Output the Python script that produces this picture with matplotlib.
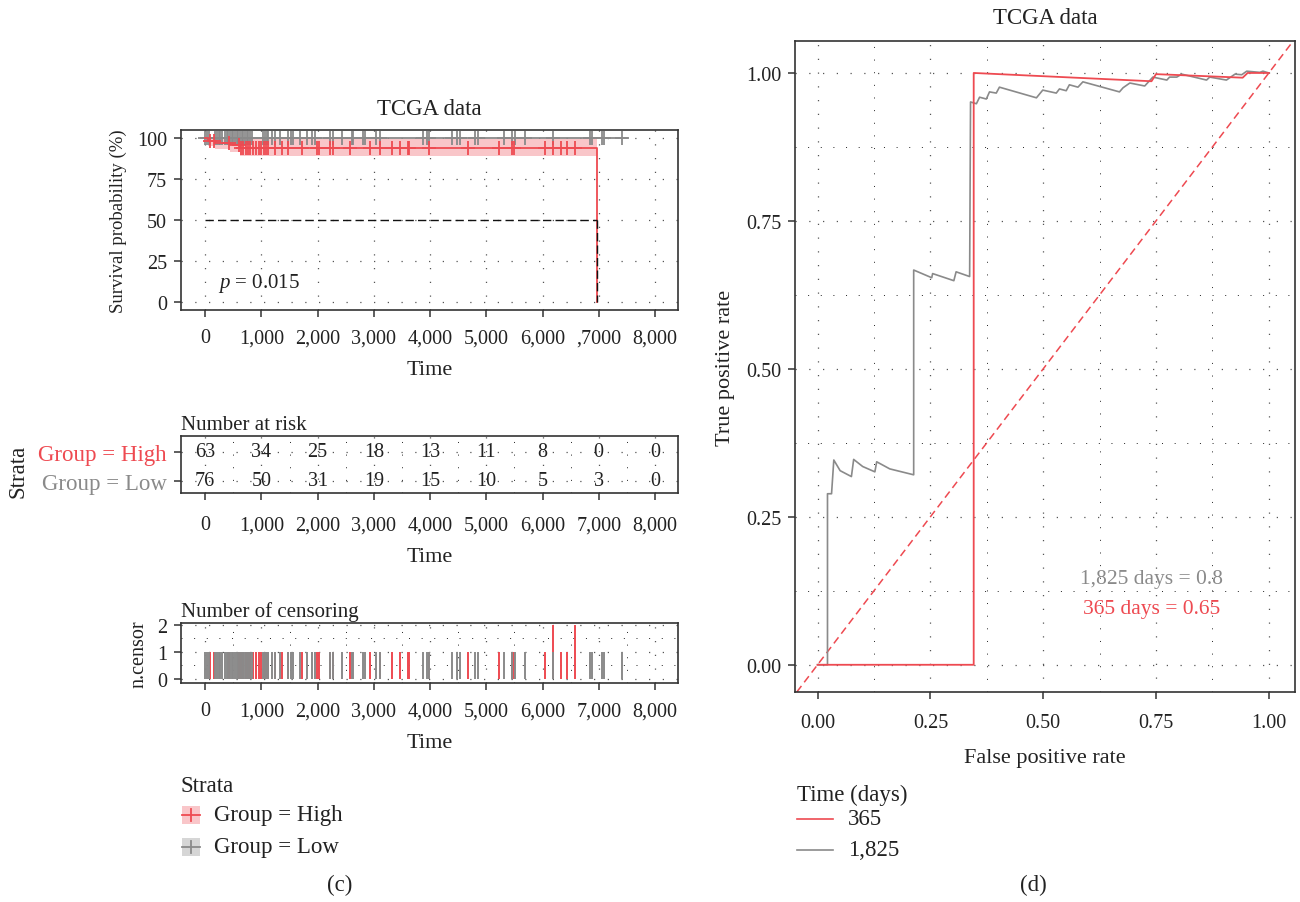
import numpy as np
import matplotlib
matplotlib.use("Agg")
import matplotlib.pyplot as plt
from matplotlib.patches import Rectangle
from matplotlib.ticker import FixedLocator, MultipleLocator

plt.rcParams['font.family'] = ['Liberation Serif', 'DejaVu Serif']
plt.rcParams['mathtext.fontset'] = 'custom'
plt.rcParams['mathtext.rm'] = 'Liberation Serif'
plt.rcParams['mathtext.it'] = 'Liberation Serif:italic'

RED = '#EE4A51'
GREY = '#8A8A8A'
PINK = '#F9C6C9'
TXT = '#222222'
SPINE = '#333333'

# ---------------- data ----------------
time_ticks = [0, 1000, 2000, 3000, 4000, 5000, 6000, 7000, 8000]
km_tick_labels = ['0', '1,000', '2,000', '3,000', '4,000', '5,000', '6,000', ',7000', '8,000']
time_tick_labels = ['0', '1,000', '2,000', '3,000', '4,000', '5,000', '6,000', '7,000', '8,000']

# Kaplan-Meier steps, group High
high_time = [0, 50, 180, 450, 620, 6963]
high_surv = [100, 98.4, 97.0, 95.6, 93.8, 0]
high_lower = [100, 95.5, 93.5, 91.4, 88.9, 88.9]
high_upper = [100, 100, 99.8, 99.7, 99.6, 99.6]

# Kaplan-Meier steps, group Low
low_time = [0, 7497]
low_surv = [100, 100]

# censoring times and counts
high_cens_time = [90, 160, 430, 600, 640, 680, 720, 760, 800, 850, 905, 950, 1000,
                  1040, 1080, 1120, 1244, 1363, 1481, 1719, 1985, 2027, 2222, 2270, 2578,
                  2923, 3111, 3318, 3467, 3615, 3633, 3989, 4682, 5220, 5464, 5500, 6044,
                  6181, 6323, 6430, 6578]
high_cens_n = [1] * 37 + [2, 1, 1, 2]

low_cens_time = [0, 30, 60, 180, 210, 240, 270, 296, 355, 380, 410, 440, 474, 500, 530,
                 560, 590, 620, 650, 680, 711, 740, 770, 800, 830, 1037, 1070, 1100, 1126,
                 1185, 1244, 1333, 1481, 1530, 1570, 1689, 1807, 1900, 1955, 2222, 2281,
                 2430, 2607, 2637, 2815, 2850, 3030, 3111, 3881, 3940, 3988, 4385, 4474,
                 4540, 4800, 4860, 5315, 5452, 5511, 5680, 6193, 6844, 6874, 7052, 7093, 7420]
low_cens_n = [1] * len(low_cens_time)

p_value = 0.015
median_surv = 50

# numbers at risk
risk_high = [63, 34, 25, 18, 13, 11, 8, 0, 0]
risk_low = [76, 50, 31, 19, 15, 10, 5, 3, 0]
strata_labels = ['Group = High', 'Group = Low']

# time-dependent ROC
fpr_365 = [0, 0.346, 0.346, 0.74, 0.75, 0.942, 0.953, 1.0]
tpr_365 = [0, 0, 1.0, 0.986, 0.998, 0.992, 1.0, 1.0]

fpr_1825 = [0, 0.022, 0.022, 0.031, 0.036, 0.05, 0.075, 0.08, 0.10, 0.127, 0.131, 0.16,
            0.213, 0.213, 0.253, 0.255, 0.302, 0.307, 0.337, 0.339, 0.352, 0.359, 0.374,
            0.381, 0.396, 0.403, 0.485, 0.499, 0.529, 0.536, 0.551, 0.558, 0.577, 0.588,
            0.669, 0.677, 0.692, 0.725, 0.743, 0.774, 0.78, 0.796, 0.807, 0.862, 0.869,
            0.906, 0.925, 0.94, 0.951, 0.98, 0.987, 1.0]
tpr_1825 = [0, 0, 0.289, 0.289, 0.346, 0.328, 0.318, 0.347, 0.335, 0.326, 0.343, 0.331,
            0.321, 0.667, 0.654, 0.661, 0.649, 0.664, 0.656, 0.951, 0.948, 0.959, 0.956,
            0.968, 0.966, 0.976, 0.958, 0.971, 0.966, 0.973, 0.970, 0.980, 0.976, 0.985,
            0.968, 0.975, 0.983, 0.978, 0.993, 0.988, 0.993, 0.993, 0.998, 0.988, 0.993,
            0.988, 0.998, 0.997, 1.003, 1.001, 1.003, 1.0]
auc_365 = 0.65
auc_1825 = 0.8
roc_ticks = [0, 0.25, 0.5, 0.75, 1.0]
roc_tick_labels = ['0.00', '0.25', '0.50', '0.75', '1.00']

# ---------------- figure ----------------
W, H = 1300, 903
fig = plt.figure(figsize=(W / 100, H / 100), dpi=100)

LAB = 16      # axis titles
TICK = 14.5   # tick labels
HEAD = 16.5   # panel headings / legends


def px_axes(x0, y0, x1, y1):
    return fig.add_axes([x0 / W, 1 - y1 / H, (x1 - x0) / W, (y1 - y0) / H])


def style(ax, xpad=7, ypad=5):
    for s in ax.spines.values():
        s.set_color(SPINE)
        s.set_linewidth(1.2)
    ax.tick_params(axis='both', which='major', length=5, width=1.1, color=SPINE,
                   labelsize=TICK, labelcolor=TXT)
    ax.tick_params(axis='x', which='major', pad=xpad)
    ax.tick_params(axis='y', which='major', pad=ypad)
    ax.tick_params(axis='both', which='minor', length=0)


def dotted_grid(ax, minor_x=False, minor_y=False):
    ax.set_axisbelow(True)
    ax.grid(True, which='major', linestyle=(0, (1, 10)), linewidth=0.9, color='#555555')
    if minor_x:
        ax.grid(True, which='minor', axis='x', linestyle=(0, (1, 12)), linewidth=0.7, color='#222222')
    if minor_y:
        ax.grid(True, which='minor', axis='y', linestyle=(0, (1, 12)), linewidth=0.7, color='#222222')


XLIM = (-430, 8410)

# ---- survival curve ----
ax1 = px_axes(181, 131, 678, 311)
style(ax1, xpad=8)
dotted_grid(ax1)
ax1.set_xlim(*XLIM)
ax1.set_ylim(-5, 105)
ax1.xaxis.set_major_locator(FixedLocator(time_ticks))
ax1.set_xticklabels(km_tick_labels)
ax1.set_yticks([0, 25, 50, 75, 100])
ax1.set_yticklabels(['0', '25', '50', '75', '100'])

ax1.fill_between(high_time, high_lower, high_upper, step='post', color=PINK, lw=0, zorder=1)
ax1.step(low_time, low_surv, where='post', color=GREY, lw=1.3, zorder=3)
ax1.step(high_time, high_surv, where='post', color=RED, lw=1.3, zorder=4)


def surv_at(times, steps_t, steps_s):
    idx = np.searchsorted(steps_t, times, side='right') - 1
    return np.asarray(steps_s)[np.clip(idx, 0, len(steps_s) - 1)]


ax1.plot(low_cens_time, surv_at(low_cens_time, low_time, low_surv), ls='none',
         marker='+', ms=10, mew=1.3, color=GREY, zorder=3)
ax1.plot(high_cens_time, surv_at(high_cens_time, high_time, high_surv), ls='none',
         marker='+', ms=10, mew=1.3, color=RED, zorder=4)

# median survival guide
ax1.plot([0, high_time[-1]], [median_surv, median_surv], ls=(0, (6, 3)), color='#111111', lw=1.0, zorder=5)
ax1.plot([high_time[-1], high_time[-1]], [median_surv, 0], ls=(0, (6, 3)), color='#111111', lw=1.0, zorder=5)
ax1.text(230, 12, f'$p$ = {p_value}', fontsize=15, color=TXT, va='center', ha='left')

ax1.set_title('TCGA data', fontsize=HEAD, color=TXT, pad=11.5)
ax1.set_xlabel('Time', fontsize=LAB, color=TXT, labelpad=9)
ax1.set_ylabel('Survival probability (%)', fontsize=13.5, color=TXT, labelpad=7)

# ---- risk table ----
ax2 = px_axes(181, 437, 678, 494)
style(ax2, xpad=11)
ax2.set_xlim(*XLIM)
ax2.set_ylim(-0.42, 1.55)
ax2.xaxis.set_major_locator(FixedLocator(time_ticks))
ax2.xaxis.set_minor_locator(MultipleLocator(500))
ax2.set_xticklabels(time_tick_labels)
ax2.set_yticks([1, 0])
ax2.set_yticklabels(strata_labels)
dotted_grid(ax2, minor_x=True)
for lab, c in zip(ax2.get_yticklabels(), [RED, GREY]):
    lab.set_color(c)
    lab.set_fontsize(HEAD)
for t, nh, nl in zip(time_ticks, risk_high, risk_low):
    ax2.text(t, 1, str(nh), ha='center', va='center', fontsize=TICK, color=TXT)
    ax2.text(t, 0, str(nl), ha='center', va='center', fontsize=TICK, color=TXT)
ax2.set_xlabel('Time', fontsize=LAB, color=TXT, labelpad=9)
ax2.set_title('Number at risk', fontsize=15, color=TXT, loc='left', pad=5)
fig.text(18 / W, 1 - 471 / H, 'Strata', rotation=90, ha='center', va='center',
         fontsize=HEAD, color=TXT)

# ---- number of censoring ----
ax3 = px_axes(181, 624, 678, 684)
style(ax3, xpad=8)
ax3.set_xlim(*XLIM)
ax3.set_ylim(-0.15, 2.07)
ax3.xaxis.set_major_locator(FixedLocator(time_ticks))
ax3.xaxis.set_minor_locator(MultipleLocator(500))
ax3.yaxis.set_minor_locator(MultipleLocator(0.5))
ax3.set_xticklabels(time_tick_labels)
ax3.set_yticks([0, 1, 2])
dotted_grid(ax3, minor_x=True, minor_y=True)
ax3.vlines(high_cens_time, 0, high_cens_n, colors=RED, lw=1.4, zorder=3)
ax3.vlines(low_cens_time, 0, low_cens_n, colors=GREY, lw=1.4, zorder=4)
ax3.set_xlabel('Time', fontsize=LAB, color=TXT, labelpad=9)
ax3.set_ylabel('n.censor', fontsize=14.5, color=TXT, labelpad=6)
ax3.set_title('Number of censoring', fontsize=15, color=TXT, loc='left', pad=5)

# ---- ROC ----
ax4 = px_axes(795, 42, 1295, 693)
style(ax4, xpad=10)
ax4.set_xlim(-0.05, 1.058)
ax4.set_ylim(-0.046, 1.054)
ax4.set_xticks(roc_ticks)
ax4.set_xticklabels(roc_tick_labels)
ax4.set_yticks(roc_ticks)
ax4.set_yticklabels(roc_tick_labels)
ax4.xaxis.set_minor_locator(MultipleLocator(0.125))
ax4.yaxis.set_minor_locator(MultipleLocator(0.125))
dotted_grid(ax4, minor_x=True, minor_y=True)
ax4.axline((0, 0), slope=1, color=RED, ls=(0, (5, 3)), lw=1.1, zorder=2)
ax4.plot(fpr_1825, tpr_1825, color=GREY, lw=1.2, zorder=3)
ax4.plot(fpr_365, tpr_365, color=RED, lw=1.3, zorder=4)
ax4.text(0.741, 0.145, f'1,825 days = {auc_1825}', color=GREY, fontsize=15.5, ha='center', va='center')
ax4.text(0.741, 0.095, f'365 days = {auc_365}', color=RED, fontsize=15.5, ha='center', va='center')
ax4.set_title('TCGA data', fontsize=HEAD, color=TXT, pad=13)
ax4.set_xlabel('False positive rate', fontsize=LAB, color=TXT, labelpad=12)
ax4.set_ylabel('True positive rate', fontsize=LAB, color=TXT, labelpad=8)

# ---- legends and panel tags (pixel overlay) ----
ov = fig.add_axes([0, 0, 1, 1])
ov.set_xlim(0, W)
ov.set_ylim(H, 0)
ov.axis('off')

ov.text(181, 787, 'Strata', fontsize=HEAD, color=TXT, va='center', ha='left')
for yk, lc, fc, lab in [(816, RED, PINK, 'Group = High'), (848, GREY, '#D6D6D6', 'Group = Low')]:
    ov.add_patch(Rectangle((182, yk - 9), 18, 18, color=fc, lw=0))
    ov.plot([182, 200], [yk, yk], color=lc, lw=1.3)
    ov.plot([191, 191], [yk - 6, yk + 6], color=lc, lw=1.3)
    ov.text(214, yk, lab, fontsize=HEAD, color=TXT, va='center', ha='left')

ov.text(797, 795, 'Time (days)', fontsize=HEAD, color=TXT, va='center', ha='left')
for yk, lc, lab in [(820, RED, '365'), (851, GREY, '1,825')]:
    ov.plot([797, 833], [yk, yk], color=lc, lw=1.2)
    ov.text(848, yk, lab, fontsize=HEAD, color=TXT, va='center', ha='left')

ov.text(340, 885, '(c)', fontsize=HEAD, color=TXT, va='center', ha='center')
ov.text(1033, 885, '(d)', fontsize=HEAD, color=TXT, va='center', ha='center')

fig.savefig('out.png', dpi=100, facecolor='white')
